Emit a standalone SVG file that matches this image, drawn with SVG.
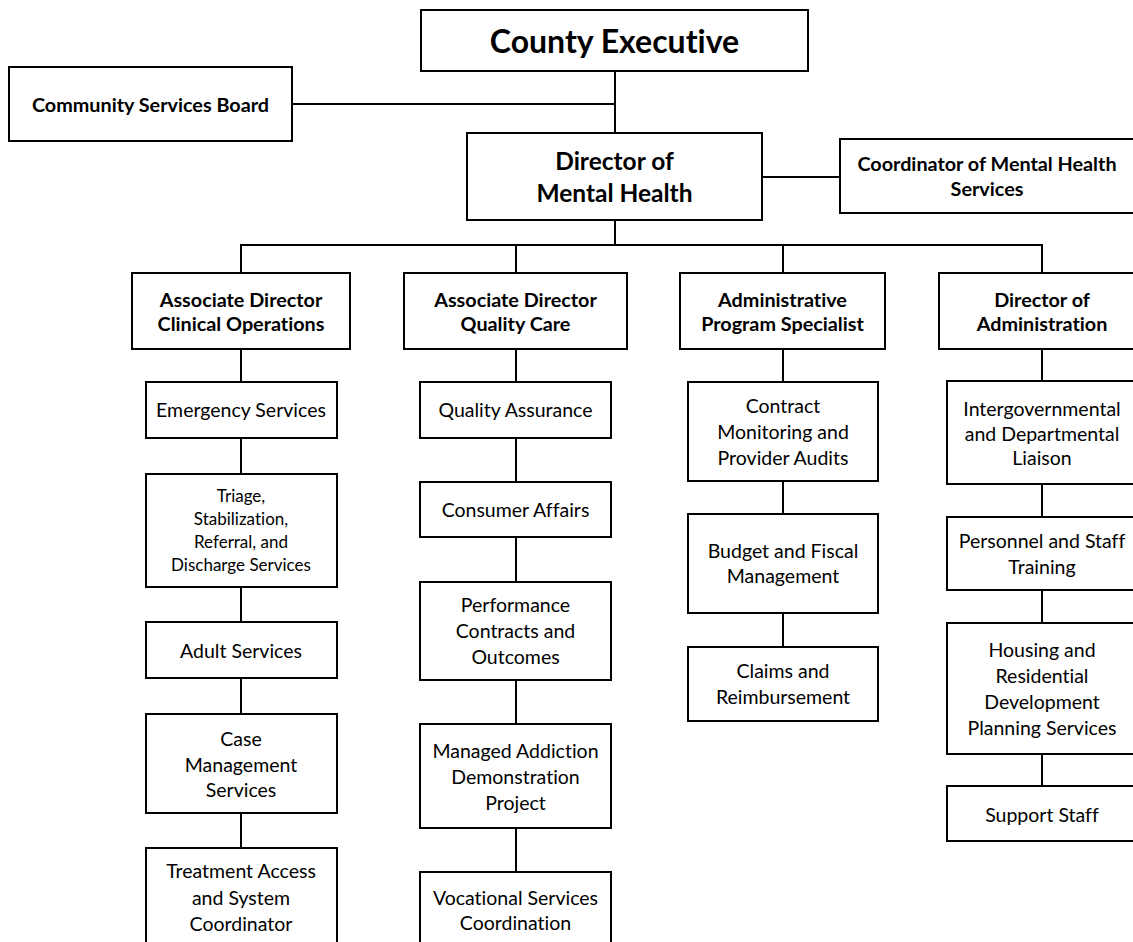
<svg xmlns="http://www.w3.org/2000/svg" width="1133" height="942" viewBox="0 0 1133 942">
<style>
rect{fill:#fff;stroke:#000;stroke-width:2}
.c line{stroke:#000;stroke-width:2}
text{font-family:Lato,"Noto Sans",sans-serif;fill:#000;text-anchor:middle;font-variant-ligatures:none}
.t1{font-size:32px;font-weight:bold}
.t2{font-size:24.5px;font-weight:bold}
.t3{font-size:19.8px;font-weight:bold}
.n{font-size:19.5px}
.s{font-size:17px}
</style>
<rect x="0" y="0" width="1133" height="942" style="stroke:none"/>
<g class="c" id="connectors">
<line x1="615" y1="71" x2="615" y2="133"/>
<line x1="292" y1="104" x2="615" y2="104"/>
<line x1="762" y1="177" x2="840" y2="177"/>
<line x1="615" y1="220" x2="615" y2="245"/>
<line x1="240" y1="245" x2="1043" y2="245"/>
<line x1="241" y1="245" x2="241" y2="273"/>
<line x1="516" y1="245" x2="516" y2="273"/>
<line x1="783" y1="245" x2="783" y2="273"/>
<line x1="1042" y1="245" x2="1042" y2="273"/>
<line x1="241" y1="349" x2="241" y2="848"/>
<line x1="516" y1="349" x2="516" y2="872"/>
<line x1="783" y1="349" x2="783" y2="647"/>
<line x1="1042" y1="349" x2="1042" y2="786"/>
</g>
<g id="county-executive"><rect x="421" y="10" width="387" height="61"/><text class="t1" x="614.5" y="53">County Executive</text></g>
<g id="community-services-board"><rect x="9" y="67" width="283" height="74"/><text class="t3" x="150.5" y="112">Community Services Board</text></g>
<g id="director-mental-health"><rect x="467" y="133" width="295" height="87"/><text class="t2" x="614.5" y="170">Director of</text><text class="t2" x="614.5" y="202">Mental Health</text></g>
<g id="coordinator"><rect x="840" y="139" width="294" height="74"/><text class="t3" x="987" y="171">Coordinator of Mental Health</text><text class="t3" x="987" y="196">Services</text></g>
<g id="assoc-clinical"><rect x="132" y="273" width="218" height="76"/><text class="t3" x="241" y="307">Associate Director</text><text class="t3" x="241" y="331">Clinical Operations</text></g>
<g id="assoc-quality"><rect x="404" y="273" width="223" height="76"/><text class="t3" x="515.5" y="307">Associate Director</text><text class="t3" x="515.5" y="331">Quality Care</text></g>
<g id="admin-program"><rect x="680" y="273" width="205" height="76"/><text class="t3" x="782.5" y="307">Administrative</text><text class="t3" x="782.5" y="331">Program Specialist</text></g>
<g id="director-admin"><rect x="939" y="273" width="206" height="76"/><text class="t3" x="1042" y="307">Director of</text><text class="t3" x="1042" y="331">Administration</text></g>
<g id="emergency"><rect x="146" y="382" width="191" height="56"/><text class="n" x="241" y="417">Emergency Services</text></g>
<g id="triage"><rect x="146" y="474" width="191" height="113"/><text class="s" x="241" y="502">Triage,</text><text class="s" x="241" y="525">Stabilization,</text><text class="s" x="241" y="548">Referral, and</text><text class="s" x="241" y="571">Discharge Services</text></g>
<g id="adult"><rect x="146" y="622" width="191" height="56"/><text class="n" x="241" y="658">Adult Services</text></g>
<g id="case-mgmt"><rect x="146" y="714" width="191" height="99"/><text class="n" x="241" y="746">Case</text><text class="n" x="241" y="772">Management</text><text class="n" x="241" y="797">Services</text></g>
<g id="treatment"><rect x="146" y="848" width="191" height="110"/><text class="n" x="241" y="878">Treatment Access</text><text class="n" x="241" y="905">and System</text><text class="n" x="241" y="931">Coordinator</text></g>
<g id="quality-assurance"><rect x="420" y="382" width="191" height="56"/><text class="n" x="515.5" y="417">Quality Assurance</text></g>
<g id="consumer"><rect x="420" y="482" width="191" height="55"/><text class="n" x="515.5" y="517">Consumer Affairs</text></g>
<g id="performance"><rect x="420" y="582" width="191" height="98"/><text class="n" x="515.5" y="612">Performance</text><text class="n" x="515.5" y="638">Contracts and</text><text class="n" x="515.5" y="664">Outcomes</text></g>
<g id="managed"><rect x="420" y="724" width="191" height="104"/><text class="n" x="515.5" y="758">Managed Addiction</text><text class="n" x="515.5" y="784">Demonstration</text><text class="n" x="515.5" y="810">Project</text></g>
<g id="vocational"><rect x="420" y="872" width="191" height="90"/><text class="n" x="515.5" y="905">Vocational Services</text><text class="n" x="515.5" y="930">Coordination</text></g>
<g id="contract"><rect x="688" y="382" width="190" height="99"/><text class="n" x="783" y="413">Contract</text><text class="n" x="783" y="439">Monitoring and</text><text class="n" x="783" y="465">Provider Audits</text></g>
<g id="budget"><rect x="688" y="514" width="190" height="99"/><text class="n" x="783" y="558">Budget and Fiscal</text><text class="n" x="783" y="583">Management</text></g>
<g id="claims"><rect x="688" y="647" width="190" height="74"/><text class="n" x="783" y="678">Claims and</text><text class="n" x="783" y="704">Reimbursement</text></g>
<g id="intergov"><rect x="947" y="381" width="190" height="103"/><text class="n" x="1042" y="416">Intergovernmental</text><text class="n" x="1042" y="441">and Departmental</text><text class="n" x="1042" y="465">Liaison</text></g>
<g id="personnel"><rect x="947" y="517" width="190" height="73"/><text class="n" x="1042" y="548">Personnel and Staff</text><text class="n" x="1042" y="574">Training</text></g>
<g id="housing"><rect x="947" y="623" width="190" height="131"/><text class="n" x="1042" y="657">Housing and</text><text class="n" x="1042" y="683">Residential</text><text class="n" x="1042" y="709">Development</text><text class="n" x="1042" y="735">Planning Services</text></g>
<g id="support"><rect x="947" y="786" width="190" height="55"/><text class="n" x="1042" y="822">Support Staff</text></g>
</svg>
